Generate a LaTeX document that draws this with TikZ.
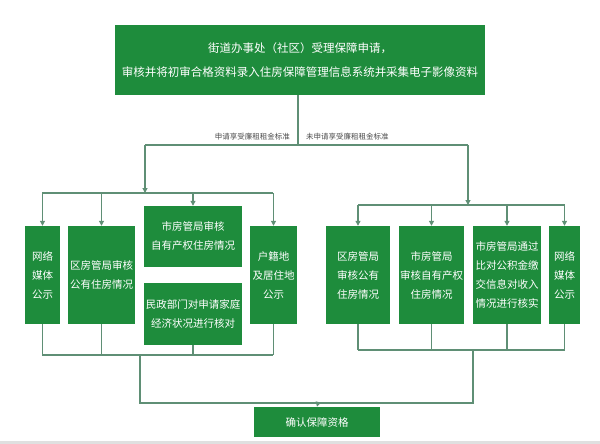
\documentclass[tikz,border=0pt]{standalone}
\usepackage{fontspec}
\setmainfont{Noto Sans CJK SC}
\usetikzlibrary{arrows.meta}
\definecolor{gbox}{HTML}{1E8C3C}
\definecolor{gline}{HTML}{5F8F75}
\tikzset{
 box/.style={fill=gbox,text=white,inner sep=0pt,align=center,font=\fontsize{10.5}{19}\selectfont},
 ln/.style={draw=gline,line width=1.1pt},
 ar/.style={ln,-{Triangle[width=5pt,length=5pt]}},
 lab/.style={font=\fontsize{7.5}{9}\selectfont,text=black!70,inner sep=1pt}
}
\newcommand{\bx}[6]{\node[box,minimum width=#4-#2,minimum height=#5-#3] (#1) at ({(#2+#4)/2},{(#3+#5)/2}) {#6};}
\begin{document}
\begin{tikzpicture}[x=1pt,y=-1pt]
\useasboundingbox (0,0) rectangle (600,444);
\fill[black!12] (0,441) rectangle (600,444);
\node[box,minimum width=370,minimum height=70,font=\fontsize{11.5}{24}\selectfont] (top) at (300,60) {街道办事处（社区）受理保障申请，\\审核并将初审合格资料录入住房保障管理信息系统并采集电子影像资料};
% left boxes
\bx{l1}{25}{226}{60}{324}{网络\\媒体\\公示}
\bx{l2}{68}{226}{135}{324}{区房管局审核\\公有住房情况}
\bx{l3}{144}{206}{242}{267}{市房管局审核\\自有产权住房情况}
\bx{l4}{144}{283}{242}{345}{民政部门对申请家庭\\经济状况进行核对}
\bx{l5}{250}{226}{297}{324}{户籍地\\及居住地\\公示}
% right boxes
\bx{r1}{326}{226}{390}{324}{区房管局\\审核公有\\住房情况}
\bx{r2}{399}{226}{464}{324}{市房管局\\审核自有产权\\住房情况}
\bx{r3}{473}{226}{541}{324}{市房管局通过\\比对公积金缴\\交信息对收入\\情况进行核实}
\bx{r4}{549}{226}{580}{324}{网络\\媒体\\公示}
\bx{fin}{254}{407}{380}{437}{确认保障资格}
% coordinates
\coordinate (t0) at (298,145);
\coordinate (tl) at (145,145);
\coordinate (tr) at (468,145);
\coordinate (bl) at (145,193);
\coordinate (br) at (468,205);
\coordinate (jl) at (140,355);
\coordinate (jr) at (473,350);
\coordinate (jb) at (318,403);
\draw[ln] (top.south -| t0) -- (t0);
\draw[ln] (tl) -- (tr);
\node[lab,anchor=south east] (la) at (291,141) {申请享受廉租租金标准};
\node[lab,anchor=south west] (lb) at (305,141) {未申请享受廉租租金标准};
\draw[ar] (tl) -- (bl);
\draw[ar] (tr) -- (br);
\draw[ln] (42,193) -- (273,193);
\foreach \n in {l1,l2,l3,l5} \draw[ar] (\n.north |- bl) -- (\n.north);
\draw[ln] (358,205) -- (565,205);
\foreach \n in {r1,r2,r3,r4} \draw[ar] (\n.north |- br) -- (\n.north);
% bottom
\foreach \n in {l1,l2,l4,l5} \draw[ln] (\n.south) -- (\n.south |- jl);
\draw[ln] (42,355) -- (273,355);
\foreach \n in {r1,r2,r3,r4} \draw[ln] (\n.south) -- (\n.south |- jr);
\draw[ln] (358,350) -- (565,350);
\draw[ln] (jl) -- (140,403) -- (473,403) -- (jr);
\draw[ar] (jb) -- (fin.north);
\end{tikzpicture}
\end{document}
